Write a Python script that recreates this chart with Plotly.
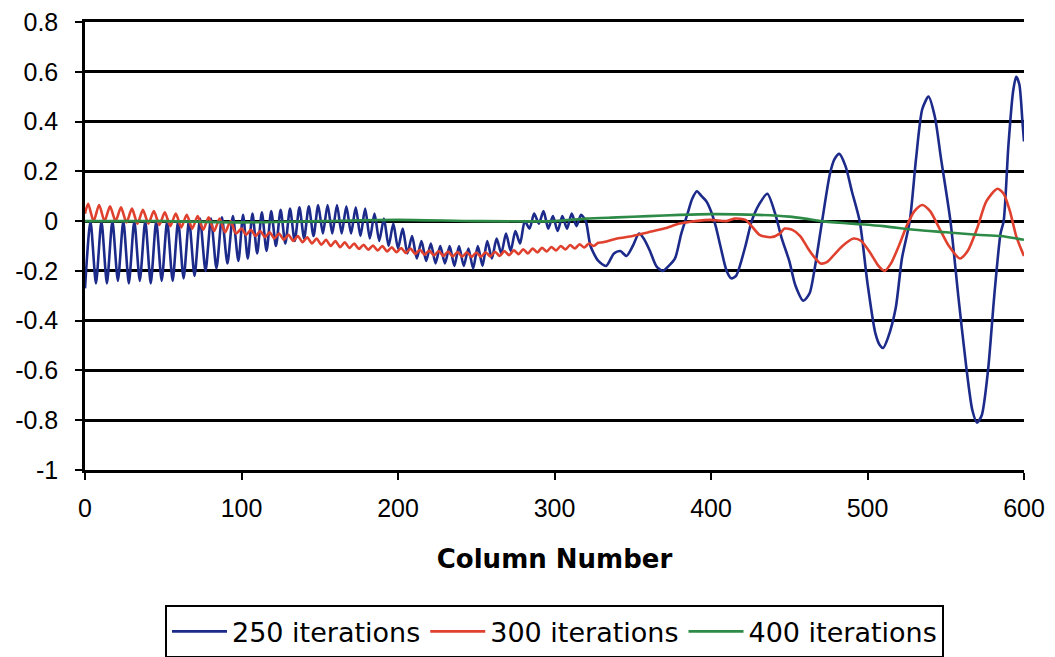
import plotly.graph_objects as go

# ---- data ----
blue_x = [0, 3.5, 7, 10.5, 14, 17.5, 21, 24.5, 28, 31.5, 35, 38.5, 42, 45.5, 49, 52.5, 56, 59.5, 63, 66.5,
          70, 73.5, 77, 80.5, 84, 87.5, 91, 94.5, 98, 101, 104, 107, 110, 113, 116, 119, 122, 125, 128, 131,
          134, 137, 140, 143, 146, 149, 152, 155, 158, 161, 164, 167, 170, 173, 176, 179, 182, 185, 188, 191,
          194, 197, 200, 203, 206, 209, 212, 215, 218, 221, 224, 227, 230, 233, 236, 239, 242, 245, 248, 251,
          254, 257, 260, 263, 266, 269, 272, 275, 278, 281, 284, 287, 290, 293, 296, 299, 302, 305, 308, 311,
          314, 317, 320, 323, 328, 333, 338, 342, 346, 350, 354, 357, 361, 365, 369, 373, 377, 381, 385, 388,
          391, 394, 397, 400, 403, 406, 410, 413, 416, 422, 426, 431, 436, 441, 445, 450, 454, 459, 463, 466,
          471, 476, 479, 482, 486, 490, 495, 500, 505, 508, 510, 513, 518, 522, 527, 531, 535, 539, 543, 547,
          553, 558, 563, 567, 570, 573, 577, 581, 585, 587, 590, 593, 595, 597, 599, 600]
blue_y = [-0.27, 0.0, -0.25, 0.0, -0.25, 0.0, -0.24, 0.0, -0.25, 0.0, -0.24, 0.0, -0.25, 0.0, -0.24, 0.0, -0.24, 0.0, -0.23, 0.005,
          -0.22, 0.01, -0.2, 0.01, -0.19, 0.015, -0.17, 0.02, -0.16, 0.025, -0.15, 0.03, -0.13, 0.035, -0.12, 0.04, -0.1, 0.045, -0.09, 0.05,
          -0.08, 0.055, -0.07, 0.06, -0.06, 0.065, -0.05, 0.065, -0.05, 0.065, -0.05, 0.06, -0.05, 0.055, -0.06, 0.05, -0.07, 0.03, -0.08, 0.01,
          -0.1, -0.01, -0.11, -0.03, -0.13, -0.06, -0.15, -0.08, -0.16, -0.09, -0.17, -0.1, -0.17, -0.1, -0.18, -0.1, -0.18, -0.11, -0.19, -0.1,
          -0.18, -0.08, -0.15, -0.07, -0.13, -0.05, -0.12, -0.04, -0.09, 0.0, -0.03, 0.03, -0.01, 0.04, -0.03, 0.02, -0.04, 0.02, -0.03, 0.03,
          -0.02, 0.025, 0.0, -0.1, -0.16, -0.18, -0.13, -0.12, -0.14, -0.1, -0.05, -0.07, -0.12, -0.18, -0.2, -0.18, -0.15, -0.05, 0.03, 0.09,
          0.12, 0.1, 0.08, 0.04, -0.02, -0.1, -0.2, -0.23, -0.22, -0.1, 0.0, 0.07, 0.11, 0.03, -0.065, -0.16, -0.26, -0.32, -0.29, -0.2,
          0.0, 0.19, 0.25, 0.27, 0.22, 0.12, 0.0, -0.25, -0.45, -0.5, -0.51, -0.47, -0.35, -0.15, 0.0, 0.25, 0.45, 0.5, 0.42, 0.25,
          0.0, -0.3, -0.58, -0.76, -0.81, -0.78, -0.6, -0.3, -0.05, 0.0, 0.3, 0.52, 0.58, 0.55, 0.4, 0.32]

red_x = [0, 2, 5.5, 9, 12.5, 16, 19.5, 23, 26.5, 30, 33.5, 37, 40.5, 44, 47.5, 51, 54.5, 58, 61.5, 65,
         68.5, 72, 75.5, 79, 82.5, 86, 89.5, 93, 96.5, 100, 103, 106, 109, 112, 115, 118, 121, 124, 127, 130,
         133, 136, 139, 142, 145, 148, 151, 154, 157, 160, 163, 166, 169, 172, 175, 178, 181, 184, 187, 190,
         193, 196, 199, 202, 205, 208, 211, 214, 217, 220, 223, 226, 229, 232, 235, 238, 241, 244, 247, 250,
         253, 256, 259, 262, 265, 268, 271, 274, 277, 280, 283, 286, 289, 292, 295, 298, 301, 304, 307, 310,
         313, 316, 319, 322, 325, 328, 331, 340, 350, 360, 370, 380, 390, 400, 410, 415, 422, 426, 431, 438,
         444, 447, 452, 457, 462, 466, 470, 474, 478, 484, 491, 496, 502, 507, 511, 515, 520, 525, 530, 535,
         540, 546, 552, 559, 564, 570, 576, 583, 587, 591, 595, 598, 600]
red_y = [0.03, 0.07, 0.0, 0.065, 0.0, 0.06, 0.0, 0.055, -0.005, 0.05, -0.01, 0.045, -0.01, 0.04, -0.015, 0.035, -0.02, 0.03, -0.025, 0.025,
         -0.03, 0.02, -0.035, 0.015, -0.04, 0.01, -0.045, 0.0, -0.05, -0.03, -0.055, -0.035, -0.06, -0.04, -0.065, -0.045, -0.07, -0.05, -0.075, -0.055,
         -0.08, -0.06, -0.085, -0.065, -0.09, -0.07, -0.095, -0.075, -0.1, -0.08, -0.105, -0.085, -0.108, -0.09, -0.112, -0.095, -0.115, -0.098, -0.118, -0.1,
         -0.122, -0.105, -0.125, -0.108, -0.128, -0.11, -0.132, -0.115, -0.135, -0.118, -0.138, -0.12, -0.14, -0.122, -0.142, -0.124, -0.143, -0.125, -0.144, -0.126,
         -0.143, -0.125, -0.142, -0.123, -0.14, -0.12, -0.137, -0.117, -0.133, -0.113, -0.13, -0.11, -0.126, -0.107, -0.122, -0.104, -0.118, -0.1, -0.114, -0.096,
         -0.11, -0.093, -0.106, -0.09, -0.1, -0.087, -0.085, -0.07, -0.06, -0.045, -0.03, -0.01, 0.0, 0.005, 0.0, 0.01, 0.005, -0.02, -0.055, -0.065,
         -0.05, -0.03, -0.035, -0.06, -0.11, -0.145, -0.17, -0.165, -0.14, -0.1, -0.07, -0.08, -0.13, -0.18, -0.2, -0.17, -0.1, -0.02, 0.04, 0.065,
         0.04, -0.03, -0.1, -0.15, -0.12, -0.03, 0.08, 0.13, 0.11, 0.04, -0.06, -0.11, -0.14]

green_x = [0, 50, 100, 150, 200, 250, 300, 320, 340, 360, 380, 400, 430, 450, 460, 470, 490, 510, 530, 550, 570, 585, 600]
green_y = [0.0, 0.0, -0.005, 0.0, 0.005, 0.0, 0.0, 0.01, 0.015, 0.02, 0.025, 0.028, 0.025, 0.018, 0.01, 0.0, -0.01, -0.02, -0.035, -0.045, -0.055, -0.06, -0.075]

series_names = ["250 iterations", "300 iterations", "400 iterations"]
series_colors = ["#1c2a8a", "#e0412e", "#2e8b47"]

x_ticks = [0, 100, 200, 300, 400, 500, 600]
y_ticks = [-1, -0.8, -0.6, -0.4, -0.2, 0, 0.2, 0.4, 0.6, 0.8]
y_tick_text = ["-1", "-0.8", "-0.6", "-0.4", "-0.2", "0", "0.2", "0.4", "0.6", "0.8"]

fig = go.Figure()
for xs, ys, name, col in zip([blue_x, red_x, green_x], [blue_y, red_y, green_y], series_names, series_colors):
    fig.add_trace(go.Scatter(x=xs, y=ys, mode="lines", name=name,
                             line=dict(color=col, width=2.6, shape="spline", smoothing=0.7)))

fig.update_layout(
    width=1055, height=657,
    margin=dict(l=85, r=31, t=22, b=187, autoexpand=False),
    paper_bgcolor="white", plot_bgcolor="white",
    showlegend=True,
    legend=dict(orientation="h", x=0.5, xanchor="center", y=-0.302, yanchor="top",
                bordercolor="black", borderwidth=2,
                font=dict(family="DejaVu Sans", size=27, color="black"),
                itemwidth=55, traceorder="normal"),
    font=dict(family="Liberation Sans", color="black"),
)
fig.update_xaxes(range=[0, 600], tickvals=x_ticks, showgrid=False, zeroline=False,
                 showline=True, mirror=True, linecolor="black", linewidth=2.5,
                 ticks="outside", ticklen=7, tickwidth=2, tickcolor="black",
                 tickfont=dict(family="Liberation Sans", size=25, color="black"),
                 ticklabelstandoff=7,
                 title=dict(text="<b>Column Number</b>", standoff=30,
                            font=dict(family="DejaVu Sans", size=26, color="black")))
fig.update_yaxes(range=[-1, 0.8], tickvals=y_ticks, ticktext=y_tick_text,
                 showgrid=True, gridcolor="black", gridwidth=2.5, zeroline=False,
                 showline=True, linecolor="black", linewidth=2.5,
                 ticks="outside", ticklen=7, tickwidth=2, tickcolor="black",
                 tickfont=dict(family="Liberation Sans", size=25, color="black"),
                 ticklabelstandoff=12)

fig.write_html("out.html")
